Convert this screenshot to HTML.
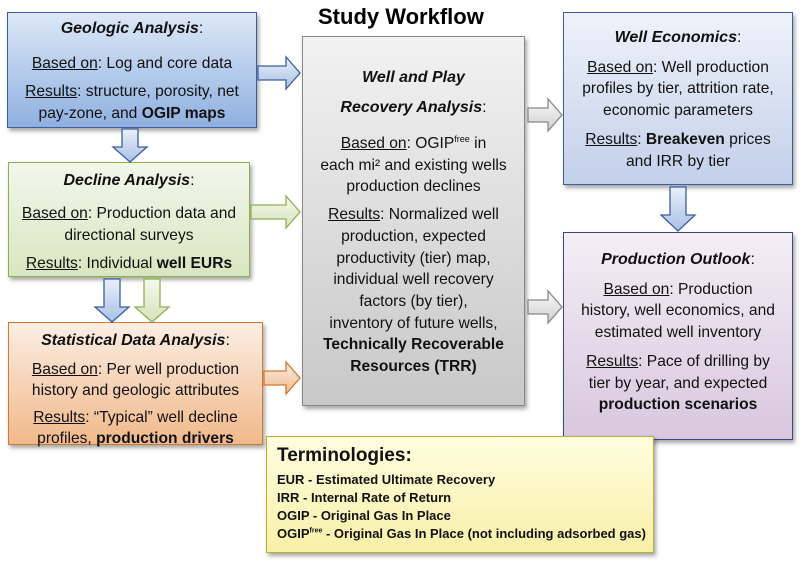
<!DOCTYPE html>
<html><head><style>
body{margin:0;width:800px;height:567px;background:#fff;position:relative;font-family:"Liberation Sans",sans-serif;overflow:hidden}
.b{position:absolute;box-sizing:border-box;text-align:center;font-size:15.6px;color:#111;line-height:22px;box-shadow:2px 3px 4px rgba(0,0,0,.35);white-space:nowrap}
.b p{margin:0 0 6px}
.t{font-weight:bold;font-style:italic;font-size:16px;margin-bottom:8px!important}
u{text-decoration:underline}
svg{position:absolute;left:0;top:0}
</style></head><body>
<div style="position:absolute;left:318px;top:4px;font-size:22px;font-weight:bold">Study Workflow</div>

<div class="b" style="left:7px;top:12px;width:250px;height:116px;border:1.5px solid #3a5f9a;background:linear-gradient(#dde8f7,#8fb0e0);padding-top:5px">
<p class="t" style="margin-bottom:13px!important">Geologic Analysis<span style="font-weight:normal;font-style:normal">:</span></p>
<p><u>Based on</u>: Log and core data</p>
<p style="margin:0"><u>Results</u>: structure, porosity, net<br>pay-zone, and <b>OGIP maps</b></p></div>

<div class="b" style="left:8px;top:162px;width:242px;height:115px;border:1.5px solid #8bb050;background:linear-gradient(#f3f6ec,#d9e6c0);padding-top:7px">
<p class="t" style="margin-bottom:11px!important">Decline Analysis<span style="font-weight:normal;font-style:normal">:</span></p>
<p><u>Based on</u>: Production data and<br>directional surveys</p>
<p><u>Results</u>: Individual <b>well EURs</b></p></div>

<div class="b" style="left:8px;top:322px;width:255px;height:123px;border:1.5px solid #d07a30;background:linear-gradient(#fbeee4,#f1b98a);padding-top:7px;line-height:21px">
<p class="t">Statistical Data Analysis<span style="font-weight:normal;font-style:normal">:</span></p>
<p><u>Based on</u>: Per well production<br>history and geologic attributes</p>
<p><u>Results</u>: “Typical” well decline<br>profiles, <b>production drivers</b></p></div>

<div class="b" style="left:302px;top:36px;width:223px;height:370px;border:1.5px solid #888;background:linear-gradient(#f2f2f2,#c8c8c8);padding-top:26px;line-height:21.7px">
<p class="t" style="margin:0!important;line-height:30px">Well and Play<br>Recovery Analysis<span style="font-weight:normal;font-style:normal">:</span></p>
<p style="margin-top:10px"><u>Based on</u>: OGIP<sup style="font-size:9px;line-height:0">free</sup> in<br>each mi² and existing wells<br>production declines</p>
<p><u>Results</u>: Normalized well<br>production, expected<br>productivity (tier) map,<br>individual well recovery<br>factors (by tier),<br>inventory of future wells,<br><b>Technically Recoverable<br>Resources (TRR)</b></p></div>

<div class="b" style="left:563px;top:12px;width:230px;height:173px;border:1.5px solid #3a5f9a;background:linear-gradient(#eef2fa,#c3d0ea);padding-top:14px;line-height:21.7px">
<p class="t">Well Economics<span style="font-weight:normal;font-style:normal">:</span></p>
<p style="margin-bottom:7px"><u>Based on</u>: Well production<br>profiles by tier, attrition rate,<br>economic parameters</p>
<p><u>Results</u>: <b>Breakeven</b> prices<br>and IRR by tier</p></div>

<div class="b" style="left:563px;top:232px;width:230px;height:208px;border:1.5px solid #3a4a7a;background:linear-gradient(#f5eef6,#d8c7de);padding-top:16px;line-height:21.7px">
<p class="t">Production Outlook<span style="font-weight:normal;font-style:normal">:</span></p>
<p style="margin-bottom:7px"><u>Based on</u>: Production<br>history, well economics, and<br>estimated well inventory</p>
<p><u>Results</u>: Pace of drilling by<br>tier by year, and expected<br><b>production scenarios</b></p></div>

<div class="b" style="left:266px;top:436px;width:388px;height:117px;border:1.5px solid #b8b030;background:linear-gradient(#fffde0,#f8f0a8);text-align:left;padding:6px 0 0 10px;font-weight:bold;font-size:13px;line-height:18px">
<div style="font-size:19px;line-height:26px;margin-bottom:2px">Terminologies:</div>
EUR - Estimated Ultimate Recovery<br>IRR - Internal Rate of Return<br>OGIP - Original Gas In Place<br>OGIP<sup style="font-size:7px;line-height:0">free</sup> - Original Gas In Place (not including adsorbed gas)</div>

<svg width="800" height="567">
<defs>
<linearGradient id="gb" x1="0" y1="0" x2="0" y2="1"><stop offset="0" stop-color="#eaf0fa"/><stop offset="1" stop-color="#a9c0e6"/></linearGradient>
<linearGradient id="gg" x1="0" y1="0" x2="0" y2="1"><stop offset="0" stop-color="#f5f8ee"/><stop offset="1" stop-color="#d6e3bc"/></linearGradient>
<linearGradient id="gy" x1="0" y1="0" x2="0" y2="1"><stop offset="0" stop-color="#fafafa"/><stop offset="1" stop-color="#cfcfcf"/></linearGradient>
<linearGradient id="go" x1="0" y1="0" x2="0" y2="1"><stop offset="0" stop-color="#fbeee4"/><stop offset="1" stop-color="#f1b98a"/></linearGradient>
</defs>
<g stroke-width="1.3">
<path d="M258 66h28v-9l14 16l-14 16v-9h-28z" fill="url(#gb)" stroke="#3a5f9a"/>
<path d="M251 205h35v-9l14 16l-14 16v-9h-35z" fill="url(#gg)" stroke="#8bb050"/>
<path d="M264 371h22v-9l14 16l-14 16v-9h-22z" fill="url(#go)" stroke="#d07a30"/>
<path d="M528 108h20v-9l14 16l-14 16v-9h-20z" fill="url(#gy)" stroke="#888"/>
<path d="M528 300h20v-9l14 16l-14 16v-9h-20z" fill="url(#gy)" stroke="#888"/>
<path d="M122 129h16v18h9l-17 15l-17-15h9z" fill="url(#gb)" stroke="#3a5f9a"/>
<path d="M104 279h16v28h9l-17 15l-17-15h9z" fill="url(#gb)" stroke="#3a5f9a"/>
<path d="M144 279h16v28h9l-17 15l-17-15h9z" fill="url(#gg)" stroke="#8bb050"/>
<path d="M670 187h16v28h9l-17 16l-17-16h9z" fill="url(#gb)" stroke="#3a5f9a"/>
</g></svg>
</body></html>
